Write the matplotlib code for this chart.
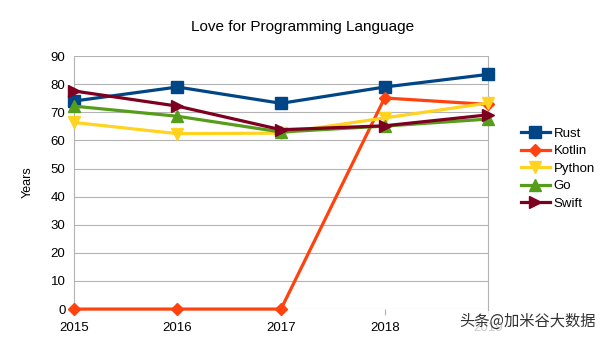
import matplotlib
matplotlib.use('Agg')
import matplotlib.pyplot as plt

plt.rcParams['font.family'] = ['Liberation Sans', 'DejaVu Sans']

years = ['2015', '2016', '2017', '2018', '2019']
rust = [74.0, 79.0, 73.2, 79.0, 83.5]
kotlin = [0, 0, 0, 75.1, 72.8]
python = [66.4, 62.4, 62.6, 68.0, 73.3]
go = [72.2, 68.6, 63.0, 65.1, 67.6]
swift = [77.6, 72.2, 63.8, 65.2, 69.1]

series = [
    ('Rust', rust, '#004586', 's'),
    ('Kotlin', kotlin, '#ff420e', 'D'),
    ('Python', python, '#ffd320', 'v'),
    ('Go', go, '#579d1c', '^'),
    ('Swift', swift, '#7e0021', '>'),
]

fig = plt.figure(figsize=(6.05, 3.4), dpi=100)
ax = fig.add_axes([0.122, 0.091, 0.685, 0.744])

x = list(range(len(years)))
for name, vals, col, mk in series:
    ms = 6 if mk == 'D' else 8
    ax.plot(x, vals, color=col, marker=mk, markersize=ms, linewidth=2.3,
            label=name, clip_on=False, zorder=3)

ax.set_xlim(0, len(years) - 1)
ax.set_ylim(0, 90)
ax.set_yticks(range(0, 91, 10))
ax.set_xticks(x)
ax.set_xticklabels(years)
ax.grid(axis='y', color='#b3b3b3', linewidth=0.8)
for s in ['top', 'bottom']:
    ax.spines[s].set_visible(False)
for s in ['left', 'right']:
    ax.spines[s].set_color('#b3b3b3')
ax.tick_params(axis='y', length=0, labelsize=9.5, pad=6)
ax.tick_params(axis='x', length=4, color='#b3b3b3', labelsize=9.5, pad=5)
ax.set_ylabel('Years', fontsize=9, labelpad=12)
fig.suptitle('Love for Programming Language', fontsize=11, x=0.5, y=0.94)

ax.legend(loc='center left', bbox_to_anchor=(1.05, 0.555), frameon=False,
          fontsize=9.5, handlelength=2.2, handletextpad=0.3, labelspacing=0.4)

fig.text(0.985, 0.03, '头条@加米谷大数据', family=['Noto Sans CJK SC', 'DejaVu Sans'],
         fontsize=11, color='#333333', ha='right', va='bottom',
         bbox=dict(facecolor='white', edgecolor='none', pad=1, alpha=0.8))

fig.savefig('out.png', dpi=100)
